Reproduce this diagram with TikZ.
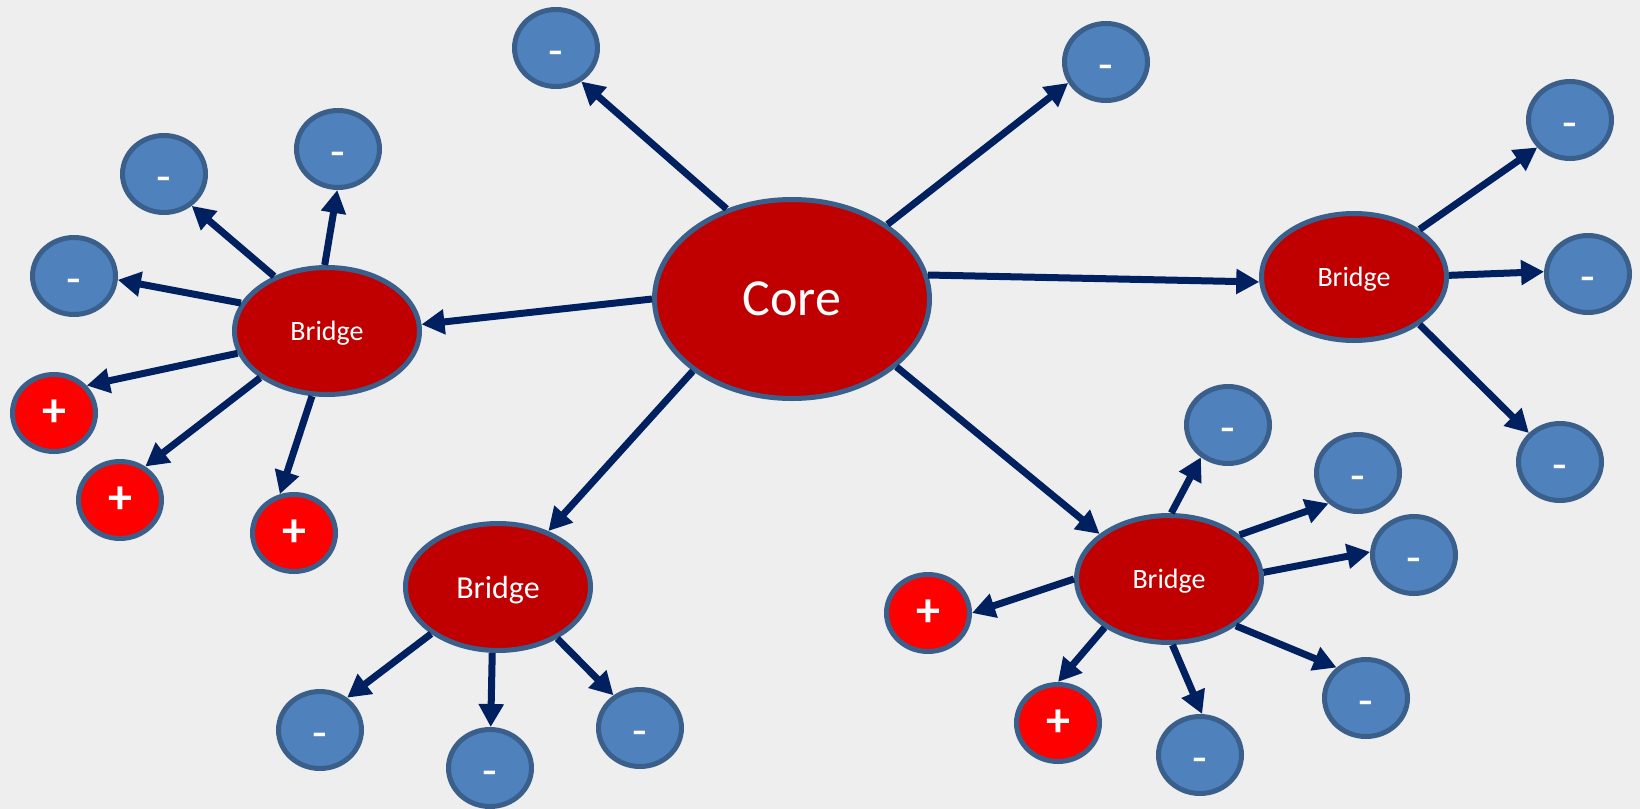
\documentclass[tikz,border=0pt]{standalone}
\usepackage{fontspec}
\setmainfont{Carlito}
\usetikzlibrary{shapes.geometric,arrows.meta}

\definecolor{fondo}{HTML}{EEEEEE}
\definecolor{borde}{HTML}{3A5F8B}
\definecolor{rojo}{HTML}{C00000}
\definecolor{positivo}{HTML}{FF0000}
\definecolor{negativo}{HTML}{4F81BD}
\definecolor{azuloscuro}{HTML}{002060}

\tikzset{
	carga/.style={ellipse, draw=borde, line width=2.5pt, inner sep=0pt, text=white,
		minimum width=41.5pt, minimum height=38.5pt},
	menos/.style={carga, fill=negativo, text height=18.6pt, text depth=0pt, font=\fontsize{24}{24}\selectfont},
	mas/.style={carga, fill=positivo, font=\fontsize{24}{24}\selectfont\bfseries},
	puente/.style={ellipse, draw=borde, line width=2.5pt, fill=rojo, text=white, inner sep=0pt,
		minimum width=92.5pt, minimum height=63.5pt, text depth=0pt, font=\fontsize{14}{14}\selectfont},
	enlace/.style={draw=azuloscuro, line width=3.5pt, -{Triangle[length=11.5pt,width=12pt]}}
}

\begin{document}
\begin{tikzpicture}[x=0.5pt,y=-0.5pt]
		
		% Fondo
		\fill[fondo] (0,0) rectangle (1640,809);
		
		% Nucleo y puentes
		\node[ellipse, draw=borde, line width=2.5pt, fill=rojo, text=white, inner sep=0pt,
			minimum width=137.5pt, minimum height=99.5pt, font=\fontsize{26}{26}\selectfont] (core) at (792,299) {Core};
		\node[puente] (bl) at (327,331) {Bridge};
		\node[puente, font=\fontsize{16}{16}\selectfont] (bb) at (498,587) {Bridge};
		\node[puente] (br) at (1354,277) {Bridge};
		\node[puente] (bd) at (1169,579) {Bridge};
		
		% Cargas negativas
		\foreach \n/\x/\y in {m1/556/48, m2/1106/62, a1/164/174, a2/338/149, a3/74/276,
			b1/320/730, b2/490/768, b3/640/728, c1/1570/120, c2/1588/274, c3/1560/462,
			d1/1228/425, d2/1358/473, d3/1414/555, d4/1366/698, d5/1200/755} {
			\node[menos] (\n) at (\x,\y) {-};
		}
		
		% Cargas positivas
		\foreach \n/\x/\y in {a4/54/413, a5/120/500, a6/294/533, d6/928/613, d7/1058/723} {
			\node[mas] (\n) at (\x,\y) {+};
		}
		
		% Flechas
		\foreach \a/\i/\b/\j in {core/126/m1/-53, core/38/m2/209, core/10/br/183, core/180/bl/4,
			core/216/bb/48, core/-33/bd/147,
			bl/162/a3/-5, bl/134/a1/-49, bl/92/a2/-91, bl/194/a4/40, bl/215/a5/53, bl/257/a6/110,
			bb/215/b1/50, bb/265/b2/89, bb/-41/b3/129,
			br/36/c1/220, br/1/c2/177, br/-36/c3/137,
			bd/88/d1/230, bd/32/d2/226, bd/4/d3/176, bd/-35/d4/134, bd/-87/d5/87,
			bd/180/d6/0, bd/217/d7/90} {
			\draw[enlace] (\a.\i) -- (\b.\j);
		}
		
\end{tikzpicture}
\end{document}
